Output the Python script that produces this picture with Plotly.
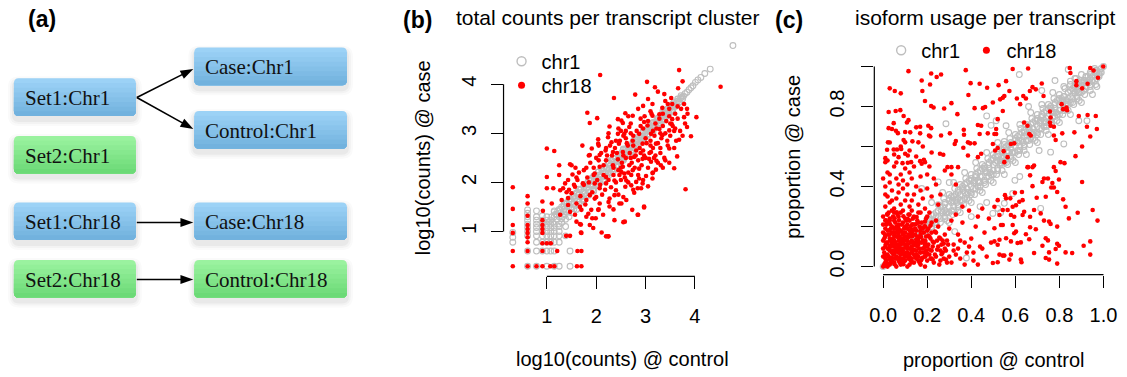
import math
import plotly.graph_objects as go

W, H = 1127, 377

# ---------------- data ----------------
# panel (b): (log10 counts @ control, log10 counts @ case)
b_chr1 = [
    (0.31, 0.98), (0.31, 0.88), (0.31, 0.78),
    (0.61, 1.44), (0.61, 1.37), (0.61, 1.30), (0.61, 1.23), (0.61, 1.15), (0.61, 1.08), (0.61, 1.00), (0.61, 0.91), (0.61, 0.60), (0.61, 0.29),
    (0.79, 1.42), (0.79, 1.30), (0.79, 1.23), (0.79, 1.15), (0.79, 1.08), (0.79, 1.00), (0.79, 0.91), (0.79, 0.78), (0.79, 0.60), (0.79, 0.29),
    (0.91, 1.32), (0.91, 1.23), (0.91, 1.15), (0.91, 1.08), (0.91, 1.00), (0.91, 0.91), (0.91, 0.78), (0.91, 0.60),
    (1.00, 1.30), (1.00, 1.23), (1.00, 1.15), (1.00, 1.08), (1.00, 1.00), (1.00, 0.91), (1.00, 0.78), (1.00, 0.60), (1.00, 0.29),
    (1.08, 1.23), (1.08, 1.15), (1.08, 1.08), (1.08, 1.00), (1.08, 0.91), (1.08, 0.78), (1.08, 0.60),
    (1.15, 1.40), (1.15, 1.30), (1.15, 1.15), (1.15, 1.08), (1.15, 1.00), (1.15, 0.91), (1.15, 0.78), (1.15, 0.60), (1.15, 0.29),
    (1.25, 1.45), (1.25, 1.30), (1.25, 1.15), (1.25, 1.00), (1.25, 0.91), (1.25, 0.78), (1.25, 0.29),
    (1.38, 1.10), (1.38, 0.91), (1.47, 0.60), (1.47, 0.29),
    (1.05, 1.20), (1.10, 1.30), (1.12, 1.18), (1.18, 1.35), (1.20, 1.25), (1.22, 1.42), (1.28, 1.38), (1.30, 1.50),
    (1.32, 1.30), (1.35, 1.45), (1.38, 1.58), (1.40, 1.40), (1.42, 1.52), (1.45, 1.62), (1.48, 1.48), (1.50, 1.60),
    (1.52, 1.70), (1.55, 1.55), (1.58, 1.68), (1.60, 1.78), (1.62, 1.62), (1.65, 1.74), (1.68, 1.85), (1.70, 1.70),
    (1.72, 1.80), (1.75, 1.90), (1.78, 1.78), (1.80, 1.88), (1.83, 1.96), (1.85, 1.84), (1.88, 1.95), (1.90, 2.03),
    (1.93, 1.92), (1.95, 2.02), (1.98, 2.10), (2.00, 1.98), (2.03, 2.08), (2.06, 2.15), (2.08, 2.05), (2.10, 2.14),
    (2.13, 2.22), (2.16, 2.12), (2.18, 2.20), (2.21, 2.28), (2.24, 2.20), (2.26, 2.28), (2.29, 2.34), (2.32, 2.27),
    (2.34, 2.35), (2.37, 2.42), (2.40, 2.34), (2.42, 2.42), (2.45, 2.48), (2.48, 2.42), (2.50, 2.50), (2.53, 2.55),
    (2.56, 2.50), (2.58, 2.58), (2.61, 2.63), (2.64, 2.58), (2.66, 2.66), (2.69, 2.70), (2.72, 2.66), (2.74, 2.74),
    (2.77, 2.78), (2.80, 2.74), (2.82, 2.82), (2.85, 2.86), (2.88, 2.82), (2.90, 2.90), (2.93, 2.94), (2.96, 2.90),
    (2.98, 2.98), (3.01, 3.02), (3.04, 2.98), (3.06, 3.06), (3.09, 3.10), (3.12, 3.06), (3.14, 3.14), (3.17, 3.18),
    (3.20, 3.14), (3.22, 3.22), (3.25, 3.26), (3.28, 3.22), (3.30, 3.30), (3.33, 3.34), (3.36, 3.30), (3.38, 3.38),
    (3.41, 3.42), (3.44, 3.38), (3.46, 3.46), (3.49, 3.50), (3.52, 3.46), (3.54, 3.54), (3.57, 3.58), (3.60, 3.55),
    (3.62, 3.62), (3.65, 3.66), (3.68, 3.64), (3.71, 3.72), (3.74, 3.74), (3.77, 3.76), (3.80, 3.81), (3.84, 3.84),
    (3.88, 3.89), (3.92, 3.93), (3.96, 3.97), (4.01, 4.04), (4.06, 4.09), (4.12, 4.14), (4.20, 4.22), (4.31, 4.31),
    (4.77, 4.79),
    (1.60, 1.45), (1.75, 1.62), (1.95, 1.82), (2.15, 2.02), (2.30, 2.45), (2.55, 2.68), (2.70, 2.56), (2.95, 3.05),
    (3.15, 3.02), (3.35, 3.45), (3.55, 3.44), (1.30, 1.18), (1.45, 1.30), (1.15, 1.42), (1.38, 1.25), (1.50, 1.38),
    (1.25, 1.10),
    (1.20, 1.34), (1.27, 1.44), (1.34, 1.52), (1.41, 1.58), (1.48, 1.66), (1.55, 1.72), (1.62, 1.80), (1.69, 1.86),
    (1.76, 1.94), (1.83, 2.00), (1.90, 2.08), (1.97, 2.14), (2.04, 2.21), (2.11, 2.27), (2.18, 2.33), (2.25, 2.38),
    (2.32, 2.44), (2.39, 2.50), (2.46, 2.56), (2.53, 2.62), (2.60, 2.68), (2.67, 2.74), (2.74, 2.80), (2.81, 2.87),
    (2.88, 2.93), (2.95, 3.00), (3.02, 3.07), (3.09, 3.14), (3.16, 3.21), (3.23, 3.28), (3.30, 3.35), (3.37, 3.42),
    (3.44, 3.49), (3.51, 3.56), (3.58, 3.63), (3.65, 3.70), (3.72, 3.77),
    (1.30, 1.26), (1.37, 1.34), (1.44, 1.40), (1.51, 1.47), (1.58, 1.53), (1.65, 1.60), (1.72, 1.66), (1.79, 1.73),
    (1.86, 1.80), (1.93, 1.86), (2.00, 1.93), (2.07, 2.00), (2.14, 2.06), (2.21, 2.13), (2.28, 2.20), (2.35, 2.27),
    (2.42, 2.34), (2.49, 2.41), (2.56, 2.48), (2.63, 2.55), (2.70, 2.62), (2.77, 2.70), (2.84, 2.77), (2.91, 2.84),
    (2.98, 2.91), (3.05, 2.99), (3.12, 3.06), (3.19, 3.13), (3.26, 3.20), (3.33, 3.27), (3.40, 3.34), (3.47, 3.41),
    (3.54, 3.49), (3.61, 3.56), (3.68, 3.63), (3.75, 3.70),
    (1.35, 1.56), (1.45, 1.66), (1.55, 1.76), (1.65, 1.86), (1.75, 1.96), (1.85, 2.05), (1.95, 2.13), (2.05, 2.22),
    (2.15, 2.30), (2.25, 2.40), (2.35, 2.48), (2.45, 2.57), (2.55, 2.66), (2.65, 2.75), (2.75, 2.84), (2.85, 2.93),
    (2.95, 3.03), (3.05, 3.12), (3.15, 3.22), (3.25, 3.31), (3.35, 3.40), (3.45, 3.50), (3.55, 3.60),
    (1.55, 1.46), (1.65, 1.55), (1.75, 1.65), (1.85, 1.74), (1.95, 1.84), (2.05, 1.94), (2.15, 2.04), (2.25, 2.14),
    (2.35, 2.24), (2.45, 2.35), (2.55, 2.45), (2.65, 2.55), (2.75, 2.65), (2.85, 2.76), (2.95, 2.86), (3.05, 2.96),
    (3.15, 3.06), (3.25, 3.16), (3.35, 3.26), (3.45, 3.37), (3.55, 3.47),
]
b_chr18 = [
    (2.08, 4.19), (2.36, 3.72), (1.82, 3.42), (2.02, 3.31), (1.87, 3.21), (2.27, 3.14), (2.44, 3.29), (2.54, 3.21),
    (1.00, 2.69), (1.15, 2.64), (1.72, 2.75), (2.04, 2.88), (2.04, 2.79), (1.91, 2.69), (2.19, 2.65), (2.31, 2.82),
    (2.46, 2.79), (2.34, 2.62), (2.07, 2.56), (1.87, 2.56), (2.44, 2.99), (2.50, 3.05), (2.24, 2.92),
    (3.68, 4.29), (3.03, 4.05), (3.19, 3.94), (4.52, 3.95), (3.75, 4.06), (3.66, 3.92), (2.79, 3.79), (3.38, 3.80),
    (3.52, 3.72), (3.54, 3.60), (3.48, 3.50), (3.14, 3.60), (2.95, 3.56), (3.34, 3.52), (3.78, 3.60), (3.84, 3.50),
    (4.03, 3.33), (3.78, 3.33), (2.59, 3.41), (2.74, 3.36), (3.14, 3.36), (3.28, 3.39), (3.54, 3.29), (3.53, 3.19),
    (2.97, 3.23), (2.51, 3.26), (3.84, 3.13), (3.92, 2.94), (3.48, 3.06), (3.34, 2.96), (3.64, 2.53), (3.48, 2.69),
    (3.21, 2.79), (3.11, 2.62), (2.97, 2.55), (2.87, 2.99), (2.74, 2.85), (2.57, 2.99), (2.64, 2.75), (2.81, 2.65),
    (2.54, 2.62), (2.67, 3.13), (3.04, 3.16), (3.11, 2.99), (3.28, 3.09), (3.44, 2.85), (3.68, 2.87), (2.94, 2.79),
    (3.40, 3.66), (2.90, 3.30), (3.20, 3.20), (3.00, 2.90), (2.70, 3.00), (3.30, 2.70), (2.60, 2.90), (3.60, 3.40),
    (3.58, 3.05), (3.10, 3.45),
    (3.48, 2.40), (3.58, 2.29), (3.31, 2.35), (3.21, 2.26), (3.14, 2.19), (3.81, 1.86), (3.14, 2.08), (3.01, 2.13),
    (3.05, 1.92), (2.94, 1.98), (2.91, 1.88), (2.84, 1.88), (2.77, 1.79), (2.81, 2.01), (2.71, 1.94), (2.61, 1.64),
    (2.97, 1.51), (2.73, 1.44), (2.85, 1.34), (2.55, 1.19), (2.51, 1.57), (2.59, 1.91), (2.61, 2.04), (2.71, 2.15),
    (2.87, 2.28), (2.87, 2.08), (2.74, 2.25), (3.07, 2.48), (3.17, 2.50), (3.22, 2.44), (3.11, 2.42), (2.94, 2.48),
    (2.77, 2.52), (2.67, 2.35), (2.54, 2.32), (2.47, 2.15), (2.57, 2.18),
    (0.31, 1.90), (0.31, 1.46), (0.31, 1.13), (0.31, 0.97), (0.31, 0.60), (0.31, 0.29),
    (0.61, 1.72), (0.61, 1.57), (0.61, 1.32), (0.61, 1.13), (0.61, 1.05), (0.61, 0.97), (0.61, 0.88), (0.61, 0.78),
    (0.61, 0.60), (0.61, 0.29), (0.79, 0.29), (0.91, 0.29), (1.07, 0.29), (1.15, 0.29), (1.61, 0.29), (1.70, 0.29),
    (0.91, 1.23), (0.91, 1.13), (0.91, 1.05), (0.91, 0.97), (0.91, 0.76), (0.91, 0.60), (1.00, 0.76), (1.08, 0.76),
    (1.21, 0.60), (1.62, 0.60), (1.70, 0.60), (1.39, 0.91), (1.47, 0.91), (1.69, 0.98), (1.87, 1.13), (1.92, 1.27),
    (1.99, 1.27), (2.20, 0.90), (2.25, 0.90), (2.37, 1.23), (2.58, 1.20), (1.00, 2.11), (1.25, 2.35), (1.50, 2.35),
    (1.58, 2.30), (1.13, 1.88), (1.27, 1.84), (1.33, 1.88), (1.10, 1.57), (1.30, 1.64), (1.43, 1.54), (1.47, 1.40),
    (1.27, 1.34), (1.43, 1.68), (1.60, 1.57), (1.67, 1.50), (1.80, 1.64), (1.87, 1.74), (1.73, 1.98), (1.82, 2.10),
    (1.97, 2.18), (2.07, 2.32), (2.20, 2.45), (2.34, 2.35), (2.44, 2.47), (2.51, 2.21), (2.37, 2.04), (2.20, 1.98),
    (2.07, 1.88), (1.97, 1.67), (2.07, 1.57), (2.27, 1.67), (2.37, 1.74), (2.47, 1.57), (2.27, 1.51), (2.04, 1.44),
    (1.84, 1.36), (1.70, 1.44), (2.14, 1.34), (1.67, 1.15), (1.90, 1.44), (1.43, 2.05), (1.57, 1.91), (1.50, 1.78),
    (1.37, 1.98), (1.97, 1.98), (2.20, 2.11), (2.40, 1.84),
    (2.97, 1.49), (2.84, 1.34), (2.24, 0.90), (2.11, 0.98), (1.94, 1.07), (1.70, 0.97), (1.69, 1.14), (1.57, 1.34),
    (1.52, 2.16), (0.92, 1.42), (0.91, 1.61), (1.00, 1.88), (1.25, 2.15), (1.47, 2.37),
    (1.55, 1.95), (1.62, 2.05), (1.68, 1.72), (1.75, 2.25), (1.78, 1.55), (1.85, 2.00), (1.88, 2.40), (1.92, 1.80),
    (1.95, 2.30), (2.00, 1.70), (2.02, 2.05), (2.05, 2.45), (2.08, 1.95), (2.10, 2.60), (2.12, 1.75), (2.15, 2.35),
    (2.18, 1.85), (2.22, 2.55), (2.25, 2.05), (2.28, 2.75), (2.30, 1.90), (2.32, 2.55), (2.35, 2.15), (2.38, 2.70),
    (2.40, 2.00), (2.42, 2.60), (2.45, 2.25), (2.48, 2.85), (2.50, 2.05), (2.52, 2.40), (2.55, 2.95), (2.58, 2.10),
    (2.60, 2.50), (2.62, 2.80), (2.65, 2.20), (2.68, 2.60), (2.70, 3.20), (2.72, 2.40), (2.75, 2.95), (2.78, 2.30),
    (2.80, 2.55), (2.82, 3.05), (2.85, 2.45), (2.88, 2.70), (2.90, 3.15), (2.92, 2.35), (2.95, 2.65), (2.98, 3.35),
    (3.00, 2.50), (3.02, 2.80), (3.05, 3.25), (3.08, 2.60), (3.10, 2.85), (3.12, 3.40), (3.15, 2.70), (3.18, 2.95),
    (3.20, 2.55), (3.22, 3.10), (3.25, 2.80), (3.28, 3.30), (3.30, 2.60), (3.32, 2.90), (3.35, 3.15), (3.38, 2.50),
    (3.40, 3.00), (3.42, 3.25), (3.45, 2.75), (3.48, 3.35), (3.50, 2.95), (3.55, 3.15), (3.58, 2.70), (3.60, 3.10),
    (3.65, 3.30), (3.70, 3.05), (3.72, 3.50), (3.75, 2.95), (3.80, 3.20), (3.85, 3.40), (3.62, 2.85), (3.40, 2.45),
    (3.25, 2.40), (3.05, 2.30), (2.85, 2.15), (2.65, 2.00), (2.45, 1.75), (2.25, 1.60), (2.05, 1.45), (1.80, 1.30),
    (1.60, 1.20), (2.35, 1.45), (2.55, 1.70), (2.75, 1.85), (2.95, 2.05), (3.15, 2.20), (3.35, 2.30), (1.45, 1.85),
    (1.65, 2.20), (1.85, 2.55), (2.05, 2.75), (2.25, 3.00), (2.45, 3.10), (2.65, 3.35), (2.85, 3.50), (3.05, 3.70),
    (3.25, 3.85), (2.60, 3.05), (2.40, 2.85), (2.20, 2.70), (2.00, 2.50), (1.80, 2.30), (1.60, 2.10), (1.40, 1.80),
    (3.45, 3.60), (3.65, 3.55), (2.95, 3.10), (2.75, 2.75), (2.55, 2.55), (2.35, 2.30), (2.15, 2.15), (1.95, 2.15),
    (1.75, 1.95), (3.15, 3.05), (3.35, 3.40), (2.50, 2.30), (2.70, 2.50), (2.90, 2.60), (3.10, 2.75), (3.30, 3.00),
    (3.50, 3.20),
]

# panel (c): (proportion @ control, proportion @ case)
c_chr1 = [
    (0.00, 0.00), (0.01, 0.01), (0.02, 0.03), (0.04, 0.02), (0.05, 0.06), (0.07, 0.05), (0.08, 0.09), (0.10, 0.08),
    (0.11, 0.12), (0.13, 0.11), (0.14, 0.14), (0.16, 0.15), (0.17, 0.17), (0.18, 0.20), (0.19, 0.17),
    (0.10, 0.12), (0.12, 0.10), (0.13, 0.15), (0.15, 0.13), (0.16, 0.18), (0.18, 0.16), (0.19, 0.21), (0.20, 0.18),
    (0.21, 0.24), (0.22, 0.20), (0.23, 0.26), (0.24, 0.22), (0.25, 0.28), (0.26, 0.24), (0.27, 0.30), (0.28, 0.25),
    (0.28, 0.32), (0.29, 0.27), (0.30, 0.33), (0.31, 0.28), (0.31, 0.35), (0.32, 0.30), (0.33, 0.36), (0.34, 0.31),
    (0.34, 0.38), (0.35, 0.33), (0.36, 0.40), (0.37, 0.34), (0.37, 0.41), (0.38, 0.36), (0.39, 0.43), (0.40, 0.37),
    (0.40, 0.44), (0.41, 0.39), (0.42, 0.46), (0.43, 0.40), (0.43, 0.47), (0.44, 0.42), (0.45, 0.49), (0.46, 0.43),
    (0.46, 0.50), (0.47, 0.45), (0.48, 0.52), (0.49, 0.46), (0.49, 0.53), (0.50, 0.48), (0.51, 0.55), (0.52, 0.49),
    (0.52, 0.56), (0.53, 0.51), (0.54, 0.58), (0.55, 0.52), (0.55, 0.59), (0.56, 0.54), (0.57, 0.61), (0.58, 0.55),
    (0.58, 0.62), (0.59, 0.57), (0.60, 0.64), (0.61, 0.58), (0.61, 0.65), (0.62, 0.60), (0.63, 0.67), (0.64, 0.61),
    (0.64, 0.68), (0.65, 0.63), (0.66, 0.70), (0.67, 0.64), (0.67, 0.71), (0.68, 0.66), (0.69, 0.73), (0.70, 0.67),
    (0.70, 0.74), (0.71, 0.69), (0.72, 0.76), (0.73, 0.70), (0.73, 0.77), (0.74, 0.72), (0.75, 0.79), (0.76, 0.73),
    (0.76, 0.80), (0.77, 0.75), (0.78, 0.82), (0.79, 0.76), (0.79, 0.83), (0.80, 0.78), (0.81, 0.84), (0.82, 0.79),
    (0.82, 0.85), (0.83, 0.81), (0.84, 0.87), (0.85, 0.82), (0.85, 0.88), (0.86, 0.84), (0.87, 0.90), (0.88, 0.85),
    (0.88, 0.91), (0.89, 0.87), (0.90, 0.92), (0.91, 0.88), (0.91, 0.93), (0.92, 0.90), (0.93, 0.95), (0.94, 0.91),
    (0.94, 0.96), (0.95, 0.93), (0.96, 0.97), (0.97, 0.94), (0.97, 0.98), (0.98, 0.96), (0.99, 0.99), (1.00, 1.00),
    (0.99, 0.97),
    (0.20, 0.20), (0.25, 0.25), (0.30, 0.30), (0.35, 0.36), (0.40, 0.40), (0.45, 0.45), (0.50, 0.51), (0.55, 0.55),
    (0.60, 0.60), (0.65, 0.66), (0.70, 0.70), (0.75, 0.75), (0.80, 0.81), (0.85, 0.85), (0.90, 0.90), (0.95, 0.95),
    (0.33, 0.33), (0.38, 0.39), (0.43, 0.43), (0.48, 0.49), (0.53, 0.53), (0.58, 0.59), (0.63, 0.63), (0.68, 0.69),
    (0.73, 0.73), (0.78, 0.79), (0.83, 0.83), (0.88, 0.88), (0.93, 0.93), (0.28, 0.28), (0.23, 0.23),
    (0.30, 0.22), (0.35, 0.27), (0.40, 0.32), (0.45, 0.37), (0.50, 0.42), (0.55, 0.46), (0.60, 0.52), (0.65, 0.56),
    (0.70, 0.62), (0.75, 0.66), (0.80, 0.72), (0.85, 0.76), (0.90, 0.82), (0.22, 0.32), (0.27, 0.37), (0.32, 0.42),
    (0.37, 0.47), (0.42, 0.52), (0.47, 0.57), (0.52, 0.62), (0.57, 0.67), (0.62, 0.71), (0.67, 0.77), (0.72, 0.81),
    (0.77, 0.87), (0.82, 0.90), (0.87, 0.94),
    (0.20, 0.24), (0.22, 0.26), (0.24, 0.27), (0.26, 0.30), (0.28, 0.31), (0.30, 0.34), (0.32, 0.35), (0.34, 0.37),
    (0.36, 0.39), (0.38, 0.42), (0.40, 0.43), (0.42, 0.45), (0.44, 0.48), (0.46, 0.49), (0.48, 0.51), (0.50, 0.54),
    (0.52, 0.55), (0.54, 0.57), (0.56, 0.60), (0.58, 0.61), (0.60, 0.63), (0.62, 0.66), (0.64, 0.67), (0.66, 0.69),
    (0.68, 0.72), (0.70, 0.73), (0.72, 0.75), (0.74, 0.78), (0.76, 0.79), (0.78, 0.81), (0.80, 0.84), (0.82, 0.85),
    (0.84, 0.87), (0.86, 0.89), (0.88, 0.91), (0.90, 0.93), (0.92, 0.95), (0.94, 0.97), (0.96, 0.99),
    (0.22, 0.19), (0.24, 0.21), (0.26, 0.22), (0.28, 0.24), (0.30, 0.27), (0.32, 0.28), (0.34, 0.30), (0.36, 0.33),
    (0.38, 0.34), (0.40, 0.36), (0.42, 0.39), (0.44, 0.40), (0.46, 0.42), (0.48, 0.45), (0.50, 0.46), (0.52, 0.48),
    (0.54, 0.51), (0.56, 0.52), (0.58, 0.54), (0.60, 0.57), (0.62, 0.58), (0.64, 0.60), (0.66, 0.63), (0.68, 0.64),
    (0.70, 0.66), (0.72, 0.69), (0.74, 0.70), (0.76, 0.72), (0.78, 0.75), (0.80, 0.76), (0.82, 0.78), (0.84, 0.81),
    (0.86, 0.82), (0.88, 0.84), (0.90, 0.87), (0.92, 0.89), (0.94, 0.90), (0.96, 0.93), (0.98, 0.95),
    (0.21, 0.21), (0.27, 0.27), (0.31, 0.32), (0.37, 0.37), (0.41, 0.42), (0.47, 0.47), (0.51, 0.52), (0.57, 0.57),
    (0.61, 0.62), (0.67, 0.67), (0.71, 0.72), (0.77, 0.77), (0.81, 0.82), (0.87, 0.87), (0.91, 0.92), (0.97, 0.97),
    (0.24, 0.25), (0.34, 0.34), (0.44, 0.45), (0.54, 0.54), (0.64, 0.65), (0.74, 0.74), (0.84, 0.84), (0.94, 0.94),
    (0.25, 0.31), (0.275, 0.34), (0.30, 0.36), (0.325, 0.39), (0.35, 0.41), (0.375, 0.44), (0.40, 0.46), (0.425, 0.49),
    (0.45, 0.51), (0.475, 0.54), (0.50, 0.56), (0.525, 0.59), (0.55, 0.61), (0.575, 0.64), (0.60, 0.66), (0.625, 0.69),
    (0.65, 0.71), (0.675, 0.74), (0.70, 0.76), (0.725, 0.79), (0.75, 0.81), (0.775, 0.84), (0.80, 0.86), (0.825, 0.89),
    (0.85, 0.91), (0.875, 0.94), (0.90, 0.96),
    (0.29, 0.23), (0.315, 0.26), (0.34, 0.28), (0.365, 0.31), (0.39, 0.33), (0.415, 0.36), (0.44, 0.38), (0.465, 0.41),
    (0.49, 0.43), (0.515, 0.46), (0.54, 0.48), (0.565, 0.51), (0.59, 0.53), (0.615, 0.56), (0.64, 0.58), (0.665, 0.61),
    (0.69, 0.63), (0.715, 0.66), (0.74, 0.68), (0.765, 0.71), (0.79, 0.73), (0.815, 0.76), (0.84, 0.78), (0.865, 0.81),
    (0.89, 0.83), (0.915, 0.86), (0.94, 0.88), (0.965, 0.91),
    (0.215, 0.23), (0.265, 0.28), (0.315, 0.33), (0.365, 0.38), (0.415, 0.43), (0.465, 0.48), (0.515, 0.53), (0.565, 0.58),
    (0.615, 0.63), (0.665, 0.68), (0.715, 0.73), (0.765, 0.78), (0.815, 0.83), (0.865, 0.88), (0.915, 0.93), (0.965, 0.98),
    (0.235, 0.22), (0.285, 0.27), (0.335, 0.32), (0.385, 0.37), (0.435, 0.42), (0.485, 0.47), (0.535, 0.52), (0.585, 0.57),
    (0.635, 0.62), (0.685, 0.67), (0.735, 0.72), (0.785, 0.77), (0.835, 0.82), (0.885, 0.87), (0.935, 0.92), (0.985, 0.97),
    (0.618, 0.960), (0.840, 0.985), (0.850, 0.927), (0.470, 0.753), (0.490, 0.706), (0.285, 0.714), (0.558, 0.704),
    (0.513, 0.729), (0.820, 0.613), (0.760, 0.572), (0.708, 0.580), (0.550, 0.625), (0.543, 0.547), (0.925, 0.729),
    (0.888, 0.729), (0.598, 0.431), (0.588, 0.365), (0.715, 0.291), (0.533, 0.269), (0.550, 0.316), (0.520, 0.291),
    (0.498, 0.266), (0.175, 0.390), (0.250, 0.423), (0.300, 0.420), (0.325, 0.175), (0.378, 0.043), (0.44, 0.30),
    (0.47, 0.32), (0.40, 0.25), (0.62, 0.45), (0.72, 0.88), (0.78, 0.93), (0.66, 0.80), (0.95, 0.86), (0.97, 0.90),
]
c_chr18 = [
    # dense cluster near the origin
    (0.00, 0.00), (0.01, 0.02), (0.02, 0.00), (0.03, 0.01), (0.05, 0.02), (0.06, 0.00), (0.08, 0.01), (0.10, 0.03),
    (0.12, 0.01), (0.14, 0.02), (0.17, 0.01), (0.20, 0.03), (0.23, 0.02), (0.04, 0.03), (0.07, 0.03), (0.09, 0.02),
    (0.01, 0.04), (0.11, 0.00), (0.13, 0.04), (0.16, 0.03), (0.19, 0.00), (0.26, 0.03),
    (0.00, 0.05), (0.02, 0.06), (0.03, 0.04), (0.05, 0.07), (0.06, 0.05), (0.08, 0.06), (0.09, 0.04), (0.11, 0.07),
    (0.12, 0.05), (0.14, 0.06), (0.15, 0.04), (0.17, 0.07), (0.19, 0.05), (0.21, 0.06), (0.24, 0.05), (0.27, 0.07),
    (0.30, 0.05), (0.04, 0.07), (0.07, 0.07), (0.10, 0.05), (0.13, 0.07), (0.16, 0.05), (0.22, 0.04),
    (0.00, 0.09), (0.01, 0.10), (0.03, 0.08), (0.04, 0.11), (0.06, 0.09), (0.07, 0.10), (0.09, 0.08), (0.10, 0.11),
    (0.12, 0.09), (0.13, 0.10), (0.15, 0.08), (0.16, 0.11), (0.18, 0.09), (0.20, 0.10), (0.22, 0.08), (0.25, 0.10),
    (0.28, 0.09), (0.02, 0.09), (0.05, 0.10), (0.08, 0.11), (0.11, 0.09), (0.14, 0.11), (0.19, 0.11), (0.32, 0.08),
    (0.00, 0.13), (0.02, 0.12), (0.03, 0.14), (0.05, 0.13), (0.06, 0.15), (0.08, 0.12), (0.09, 0.14), (0.11, 0.13),
    (0.12, 0.15), (0.14, 0.12), (0.16, 0.14), (0.18, 0.13), (0.21, 0.15), (0.23, 0.12), (0.26, 0.14), (0.01, 0.15),
    (0.04, 0.12), (0.07, 0.13), (0.10, 0.15), (0.13, 0.13), (0.19, 0.12), (0.29, 0.13),
    (0.00, 0.17), (0.02, 0.18), (0.03, 0.16), (0.05, 0.19), (0.06, 0.17), (0.08, 0.18), (0.09, 0.16), (0.11, 0.19),
    (0.13, 0.17), (0.15, 0.18), (0.17, 0.16), (0.20, 0.18), (0.24, 0.17), (0.04, 0.17), (0.07, 0.19), (0.10, 0.17),
    (0.12, 0.18), (0.18, 0.19), (0.01, 0.19),
    (0.00, 0.21), (0.02, 0.22), (0.04, 0.20), (0.05, 0.23), (0.07, 0.21), (0.09, 0.22), (0.10, 0.20), (0.12, 0.23),
    (0.14, 0.21), (0.16, 0.22), (0.19, 0.20), (0.22, 0.22), (0.03, 0.23), (0.06, 0.20), (0.11, 0.21), (0.01, 0.23),
    (0.00, 0.25), (0.02, 0.26), (0.03, 0.24), (0.05, 0.27), (0.07, 0.25), (0.08, 0.27), (0.10, 0.24), (0.12, 0.26),
    (0.14, 0.25), (0.17, 0.27), (0.20, 0.25), (0.04, 0.28), (0.09, 0.28), (0.13, 0.28),
    (0.005, 0.01), (0.015, 0.03), (0.025, 0.05), (0.035, 0.02), (0.045, 0.08), (0.055, 0.04), (0.065, 0.11),
    (0.075, 0.02), (0.085, 0.09), (0.095, 0.06), (0.105, 0.13), (0.115, 0.04), (0.125, 0.12), (0.135, 0.08),
    (0.145, 0.16), (0.155, 0.10), (0.165, 0.02), (0.175, 0.12), (0.185, 0.07), (0.195, 0.15), (0.205, 0.11),
    (0.215, 0.04), (0.005, 0.07), (0.015, 0.12), (0.025, 0.16), (0.035, 0.19), (0.045, 0.14), (0.055, 0.22),
    (0.065, 0.18), (0.075, 0.15), (0.085, 0.21), (0.095, 0.19), (0.105, 0.23), (0.115, 0.16), (0.125, 0.20),
    (0.135, 0.24), (0.145, 0.19), (0.155, 0.23), (0.165, 0.20), (0.175, 0.22), (0.185, 0.17), (0.195, 0.24),
    (0.005, 0.14), (0.015, 0.21), (0.025, 0.27), (0.035, 0.10), (0.045, 0.25), (0.055, 0.12), (0.065, 0.26),
    (0.075, 0.08), (0.085, 0.13), (0.095, 0.03), (0.105, 0.07), (0.115, 0.26), (0.125, 0.03), (0.135, 0.18),
    (0.145, 0.05), (0.155, 0.15), (0.165, 0.09), (0.175, 0.04), (0.185, 0.13), (0.195, 0.08), (0.205, 0.19),
    (0.215, 0.14), (0.225, 0.10), (0.235, 0.06), (0.245, 0.13), (0.255, 0.01), (0.265, 0.11), (0.275, 0.04),
    (0.285, 0.08), (0.295, 0.11), (0.31, 0.02), (0.33, 0.06), (0.35, 0.13), (0.37, 0.01), (0.39, 0.10), (0.41, 0.07),
    (0.43, 0.01), (0.45, 0.09), (0.02, 0.015), (0.04, 0.045), (0.06, 0.075), (0.08, 0.035), (0.10, 0.095),
    (0.12, 0.065), (0.14, 0.085), (0.16, 0.125), (0.18, 0.045), (0.20, 0.065), (0.03, 0.105), (0.05, 0.155),
    (0.07, 0.165), (0.09, 0.115), (0.11, 0.145), (0.13, 0.185), (0.15, 0.135), (0.17, 0.195), (0.19, 0.225),
    (0.21, 0.085),
    (0.012, 0.005), (0.032, 0.035), (0.052, 0.012), (0.072, 0.045), (0.092, 0.012), (0.112, 0.052), (0.132, 0.022),
    (0.152, 0.062), (0.172, 0.032), (0.192, 0.052), (0.008, 0.055), (0.028, 0.085), (0.048, 0.062), (0.068, 0.092),
    (0.088, 0.068), (0.108, 0.102), (0.128, 0.088), (0.148, 0.108), (0.168, 0.072), (0.188, 0.098), (0.012, 0.112),
    (0.032, 0.132), (0.052, 0.108), (0.072, 0.142), (0.092, 0.128), (0.112, 0.112), (0.132, 0.152), (0.152, 0.122),
    (0.172, 0.148), (0.192, 0.128), (0.008, 0.162), (0.028, 0.182), (0.048, 0.172), (0.068, 0.202), (0.088, 0.172),
    (0.108, 0.192), (0.128, 0.168), (0.148, 0.212), (0.168, 0.178), (0.188, 0.202), (0.012, 0.232), (0.032, 0.212),
    (0.052, 0.242), (0.072, 0.232), (0.092, 0.252), (0.112, 0.238), (0.132, 0.212), (0.152, 0.248), (0.018, 0.262),
    (0.062, 0.272), (0.205, 0.155), (0.225, 0.125), (0.235, 0.175), (0.245, 0.085), (0.255, 0.145), (0.265, 0.062),
    (0.275, 0.115), (0.285, 0.035), (0.225, 0.035), (0.215, 0.205),
    # left side, medium density
    (0.01, 0.30), (0.03, 0.32), (0.05, 0.29), (0.02, 0.35), (0.06, 0.34), (0.08, 0.31), (0.04, 0.38), (0.10, 0.33),
    (0.07, 0.37), (0.12, 0.30), (0.01, 0.40), (0.09, 0.39), (0.03, 0.42), (0.06, 0.44), (0.11, 0.41), (0.14, 0.36),
    (0.02, 0.47), (0.08, 0.46), (0.13, 0.44), (0.05, 0.50), (0.10, 0.49), (0.16, 0.31), (0.15, 0.40), (0.00, 0.44),
    (0.18, 0.34), (0.12, 0.47), (0.04, 0.33), (0.17, 0.45), (0.19, 0.29), (0.20, 0.39),
    (0.02, 0.53), (0.05, 0.56), (0.08, 0.60), (0.03, 0.62), (0.12, 0.58), (0.15, 0.55), (0.18, 0.60), (0.22, 0.57),
    (0.06, 0.52), (0.14, 0.50), (0.20, 0.46), (0.24, 0.41), (0.22, 0.35), (0.25, 0.31), (0.17, 0.38), (0.07, 0.41),
    (0.03, 0.46), (0.11, 0.36), (0.09, 0.43), (0.16, 0.27), (0.01, 0.36), (0.13, 0.33),
    # right of the cluster
    (0.22, 0.17), (0.25, 0.20), (0.27, 0.13), (0.30, 0.19), (0.32, 0.11), (0.34, 0.16), (0.36, 0.22), (0.38, 0.07),
    (0.40, 0.14), (0.42, 0.20), (0.44, 0.10), (0.46, 0.17), (0.48, 0.24), (0.35, 0.04), (0.29, 0.02), (0.33, 0.26),
    (0.41, 0.03), (0.45, 0.29), (0.24, 0.23), (0.37, 0.12), (0.43, 0.25), (0.31, 0.23), (0.28, 0.16), (0.39, 0.28),
    (0.47, 0.05), (0.26, 0.08), (0.34, 0.09), (0.49, 0.12), (0.21, 0.27), (0.36, 0.30),
    (0.23, 0.44), (0.28, 0.48), (0.26, 0.36), (0.31, 0.46), (0.21, 0.50), (0.33, 0.41),
    # lower right quadrant
    (0.658, 0.497), (0.678, 0.497), (0.775, 0.497), (0.783, 0.478), (0.667, 0.456), (0.730, 0.440), (0.748, 0.440),
    (0.798, 0.435), (0.903, 0.423), (0.723, 0.423), (0.768, 0.418), (0.775, 0.395), (0.678, 0.402), (0.763, 0.395),
    (0.790, 0.373), (0.630, 0.373), (0.598, 0.369), (0.553, 0.357), (0.558, 0.341), (0.520, 0.332), (0.577, 0.341),
    (0.618, 0.324), (0.633, 0.332), (0.697, 0.344), (0.738, 0.349), (0.817, 0.336), (0.603, 0.307), (0.588, 0.299),
    (0.565, 0.283), (0.543, 0.283), (0.505, 0.299), (0.685, 0.283), (0.715, 0.266), (0.640, 0.274), (0.633, 0.258),
    (0.667, 0.249), (0.580, 0.258), (0.595, 0.249), (0.528, 0.258), (0.828, 0.299), (0.883, 0.269), (0.843, 0.241),
    (0.951, 0.283), (0.973, 0.230), (0.730, 0.230), (0.753, 0.225), (0.760, 0.213), (0.790, 0.200), (0.693, 0.187),
    (0.667, 0.197), (0.535, 0.208), (0.543, 0.208), (0.505, 0.192), (0.588, 0.208), (0.603, 0.175), (0.595, 0.167),
    (0.648, 0.162), (0.558, 0.142), (0.528, 0.134), (0.505, 0.126), (0.738, 0.142), (0.748, 0.131), (0.663, 0.137),
    (0.625, 0.121), (0.610, 0.118), (0.580, 0.126), (0.520, 0.109), (0.723, 0.104), (0.790, 0.114), (0.798, 0.104),
    (0.783, 0.088), (0.940, 0.126), (0.910, 0.104), (0.828, 0.071), (0.858, 0.068), (0.685, 0.068), (0.753, 0.071),
    (0.738, 0.043), (0.753, 0.035), (0.625, 0.035), (0.628, 0.022), (0.580, 0.060), (0.573, 0.035), (0.550, 0.055),
    (0.528, 0.060), (0.543, 0.055), (0.520, 0.022), (0.498, 0.018), (0.790, 0.015), (0.940, 0.060),
    # upper right quadrant
    (0.999, 1.000), (0.658, 0.990), (0.588, 0.988), (0.847, 0.993), (0.940, 0.993), (0.955, 0.980), (0.850, 0.968),
    (0.975, 0.944), (0.558, 0.927), (0.524, 0.907), (0.720, 0.915), (0.877, 0.927), (0.877, 0.907), (0.928, 0.914),
    (0.678, 0.897), (0.693, 0.886), (0.666, 0.878), (0.573, 0.878), (0.903, 0.891), (0.728, 0.853), (0.636, 0.853),
    (0.607, 0.840), (0.550, 0.853), (0.543, 0.844), (0.531, 0.836), (0.648, 0.840), (0.622, 0.812), (0.498, 0.820),
    (0.810, 0.812), (0.832, 0.795), (0.835, 0.782), (0.817, 0.787), (0.757, 0.775), (0.543, 0.778), (0.760, 0.745),
    (0.888, 0.753), (0.928, 0.758), (0.965, 0.753), (0.520, 0.737), (0.757, 0.720), (0.760, 0.704), (0.775, 0.699),
    (0.813, 0.666), (0.640, 0.720), (0.655, 0.704), (0.663, 0.663), (0.670, 0.655), (0.775, 0.655), (0.783, 0.633),
    (0.868, 0.671), (0.925, 0.699), (0.970, 0.688), (0.940, 0.650), (0.903, 0.600), (0.873, 0.552), (0.805, 0.522),
    (0.823, 0.517), (0.685, 0.505), (0.655, 0.497), (0.513, 0.688), (0.513, 0.663), (0.580, 0.613), (0.595, 0.616),
    (0.547, 0.577), (0.565, 0.547), (0.508, 0.580), (0.520, 0.593), (0.550, 0.522), (0.498, 0.613),
    # upper left quadrant
    (0.115, 0.977), (0.218, 0.965), (0.243, 0.948), (0.263, 0.960), (0.375, 0.982), (0.175, 0.930), (0.213, 0.910),
    (0.397, 0.917), (0.438, 0.914), (0.472, 0.894), (0.030, 0.891), (0.053, 0.878), (0.080, 0.866), (0.178, 0.878),
    (0.387, 0.858), (0.190, 0.828), (0.218, 0.803), (0.229, 0.795), (0.310, 0.817), (0.277, 0.790), (0.415, 0.792),
    (0.453, 0.792), (0.463, 0.798), (0.337, 0.762), (0.025, 0.773), (0.057, 0.778), (0.078, 0.782), (0.093, 0.753),
    (0.115, 0.732), (0.108, 0.720), (0.150, 0.696), (0.168, 0.699), (0.205, 0.704), (0.218, 0.692), (0.048, 0.717),
    (0.025, 0.692), (0.040, 0.688), (0.058, 0.679), (0.067, 0.667), (0.100, 0.673), (0.123, 0.671), (0.168, 0.666),
    (0.208, 0.655), (0.214, 0.650), (0.263, 0.655), (0.303, 0.666), (0.366, 0.684), (0.367, 0.659), (0.330, 0.628),
    (0.325, 0.613), (0.364, 0.594), (0.385, 0.621), (0.395, 0.616), (0.415, 0.616), (0.438, 0.663), (0.430, 0.708),
    (0.445, 0.704), (0.475, 0.666), (0.505, 0.663), (0.385, 0.555), (0.445, 0.564), (0.430, 0.547), (0.093, 0.633),
    (0.100, 0.621), (0.082, 0.588), (0.048, 0.585), (0.063, 0.585), (0.022, 0.621), (0.018, 0.584), (0.010, 0.542),
    (0.010, 0.522), (0.070, 0.547), (0.100, 0.564), (0.112, 0.555), (0.088, 0.517), (0.112, 0.519), (0.127, 0.522),
    (0.133, 0.626), (0.160, 0.621), (0.168, 0.527), (0.185, 0.534), (0.175, 0.514), (0.190, 0.522), (0.258, 0.564),
    (0.273, 0.559), (0.292, 0.497), (0.310, 0.497), (0.340, 0.497),
]

b_ticks = [1, 2, 3, 4]
c_ticks = [0.0, 0.2, 0.4, 0.6, 0.8, 1.0]
c_xlabels = ["0.0", "0.2", "0.4", "0.6", "0.8", "1.0"]
c_ylabels = ["0.0", "", "0.4", "", "0.8", ""]
series_names = ["chr1", "chr18"]

# panel (a) diagram
left_boxes = ["Set1:Chr1", "Set2:Chr1", "Set1:Chr18", "Set2:Chr18"]
right_boxes = ["Case:Chr1", "Control:Chr1", "Case:Chr18", "Control:Chr18"]
left_colors = ["blue", "green", "blue", "green"]
right_colors = ["blue", "blue", "blue", "green"]

# ---------------- layout helpers (pixel -> paper) ----------------
def X(px):
    return px / W

def Y(py):
    return 1 - py / H

SANS = "Liberation Sans, Arial, sans-serif"
SERIF = "Liberation Serif, Times New Roman, serif"
GREY = "#bebebe"
RED = "#ff0000"

grey_marker = dict(symbol="circle-open", size=5.8, color=GREY, line=dict(width=1.1, color=GREY))
red_marker = dict(symbol="circle", size=4.6, color=RED, line=dict(width=0))
grey_key = dict(symbol="circle-open", size=9, color=GREY, line=dict(width=1.4, color=GREY))
red_key = dict(symbol="circle", size=7, color=RED, line=dict(width=0))

fig = go.Figure()

for pts, mk, xa, ya in [(b_chr1, grey_marker, "x", "y"), (b_chr18, red_marker, "x", "y"),
                        (c_chr1, grey_marker, "x2", "y2"), (c_chr18, red_marker, "x2", "y2")]:
    fig.add_trace(go.Scatter(x=[p[0] for p in pts], y=[p[1] for p in pts], mode="markers",
                             marker=mk, xaxis=xa, yaxis=ya, showlegend=False, hoverinfo="skip"))

# legend key entries (one legend box per entry, placed like R's legend)
for name, mk, lg, xa, ya in [(series_names[0], grey_key, "legend", "x", "y"),
                             (series_names[1], red_key, "legend2", "x", "y"),
                             (series_names[0], grey_key, "legend3", "x2", "y2"),
                             (series_names[1], red_key, "legend4", "x2", "y2")]:
    fig.add_trace(go.Scatter(x=[None], y=[None], mode="markers", marker=mk, name=name,
                             xaxis=xa, yaxis=ya, legend=lg, showlegend=True, hoverinfo="skip"))

axis_common = dict(showgrid=False, zeroline=False, showline=False, ticks="outside", ticklen=12,
                   tickwidth=1.2, tickcolor="black", tickfont=dict(family=SANS, size=20, color="black"))

bx0, bx1, by0, by1 = 503, 743, 37, 278.5
b_xr = [1 + (bx0 - 546.7) / 49.8, 1 + (bx1 - 546.7) / 49.8]
b_yr = [1 - (by1 - 233.3) / 49.44, 1 + (233.3 - by0) / 49.44]
cx0, cx1, cy0, cy1 = 877.1, 1117.2, 59.0, 276.8

fig.update_layout(
    xaxis=dict(domain=[X(bx0), X(bx1)], range=b_xr, anchor="y",
               tickvals=b_ticks, ticktext=[str(t) for t in b_ticks], ticklabelstandoff=10, **axis_common),
    yaxis=dict(domain=[Y(by1), Y(by0)], range=b_yr, anchor="x",
               tickvals=b_ticks, ticktext=[str(t) for t in b_ticks], tickangle=-90, ticklabelstandoff=7,
               **axis_common),
    xaxis2=dict(domain=[X(cx0), X(cx1)], range=[-0.04, 1.04], anchor="y2",
                tickvals=c_ticks, ticktext=c_xlabels, ticklabelstandoff=10, **axis_common),
    yaxis2=dict(domain=[Y(cy1), Y(cy0)], range=[-0.04, 1.04], anchor="x2",
                tickvals=c_ticks, ticktext=c_ylabels, tickangle=-90, ticklabelstandoff=9, **axis_common),
)

shapes = []
shapes.append(dict(type="line", xref="x", yref="y domain", x0=b_ticks[0], x1=b_ticks[-1], y0=0, y1=0,
                   line=dict(color="black", width=1.2)))
shapes.append(dict(type="line", xref="x domain", yref="y", x0=0, x1=0, y0=b_ticks[0], y1=b_ticks[-1],
                   line=dict(color="black", width=1.2)))
shapes.append(dict(type="line", xref="x2", yref="y2 domain", x0=c_ticks[0], x1=c_ticks[-1], y0=0, y1=0,
                   line=dict(color="black", width=1.2)))
shapes.append(dict(type="line", xref="x2 domain", yref="y2", x0=0, x1=0, y0=c_ticks[0], y1=c_ticks[-1],
                   line=dict(color="black", width=1.2)))

def pt(px, py):
    return f"{X(px):.5f},{Y(py):.5f}"

def rrect_path(x0, y0, x1, y1, r):
    return (f"M{pt(x0 + r, y0)} L{pt(x1 - r, y0)} Q{pt(x1, y0)} {pt(x1, y0 + r)} "
            f"L{pt(x1, y1 - r)} Q{pt(x1, y1)} {pt(x1 - r, y1)} L{pt(x0 + r, y1)} "
            f"Q{pt(x0, y1)} {pt(x0, y1 - r)} L{pt(x0, y0 + r)} Q{pt(x0, y0)} {pt(x0 + r, y0)} Z")

def bottom_path(x0, ys, x1, y1, r):
    return (f"M{pt(x0, ys)} L{pt(x1, ys)} L{pt(x1, y1 - r)} Q{pt(x1, y1)} {pt(x1 - r, y1)} "
            f"L{pt(x0 + r, y1)} Q{pt(x0, y1)} {pt(x0, y1 - r)} Z")

grad = {
    "blue": [(0x9c, 0xd2, 0xf6), (0x72, 0xb2, 0xde)],
    "green": [(0x9a, 0xf2, 0x9f), (0x6c, 0xda, 0x77)],
}

def mix(c0, c1, t):
    return "rgb(%d,%d,%d)" % tuple(round(a + (b - a) * t) for a, b in zip(c0, c1))

annotations = []

def add_box(x0, y0, x1, y1, label, color):
    r = 5
    for e, a in [(6, 0.025), (4, 0.035), (2, 0.05)]:
        shapes.append(dict(type="path", xref="paper", yref="paper",
                           path=rrect_path(x0 - e, y0 - e + 4, x1 + e, y1 + e + 4, r + e),
                           fillcolor=f"rgba(60,60,60,{a})", line=dict(width=0), layer="below"))
    c0, c1 = grad[color]
    n = 8
    shapes.append(dict(type="path", xref="paper", yref="paper", path=rrect_path(x0, y0, x1, y1, r),
                       fillcolor=mix(c0, c1, 0), line=dict(width=0), layer="below"))
    h = y1 - y0
    for i in range(1, n):
        ys = y0 + i * h / n
        shapes.append(dict(type="path", xref="paper", yref="paper", path=bottom_path(x0, ys, x1, y1, r),
                           fillcolor=mix(c0, c1, i / (n - 1)), line=dict(width=0), layer="below"))
    annotations.append(dict(xref="paper", yref="paper", x=X(x0 + 9), y=Y((y0 + y1) / 2 + 1),
                            xanchor="left", yanchor="middle", showarrow=False, text=label,
                            font=dict(family=SERIF, size=21, color="#111111")))

left_rows = [(79, 117), (137, 175), (204, 242), (262, 300)]
right_rows = [(48, 86), (112, 150), (204, 242), (262, 300)]
for (ya, yb), lab, col in zip(left_rows, left_boxes, left_colors):
    add_box(9, ya, 132, yb, lab, col)
for (ya, yb), lab, col in zip(right_rows, right_boxes, right_colors):
    add_box(191, ya, 345, yb, lab, col)

def add_arrow(tx, ty, hx, hy):
    dx, dy = hx - tx, hy - ty
    L = math.hypot(dx, dy)
    ux, uy = dx / L, dy / L
    hl, hw = 13, 4.6
    bxp, byp = hx - ux * hl, hy - uy * hl
    shapes.append(dict(type="line", xref="paper", yref="paper", x0=X(tx), y0=Y(ty), x1=X(bxp + ux * 2),
                       y1=Y(byp + uy * 2), line=dict(color="black", width=1.6)))
    p1 = (bxp - uy * hw, byp + ux * hw)
    p2 = (bxp + uy * hw, byp - ux * hw)
    shapes.append(dict(type="path", xref="paper", yref="paper",
                       path=f"M{pt(hx, hy)} L{pt(*p1)} L{pt(*p2)} Z",
                       fillcolor="black", line=dict(width=0)))

add_arrow(133, 98.3, 190, 69.5)
add_arrow(133, 98.3, 190, 130)
add_arrow(133, 224.3, 190, 224.3)
add_arrow(133, 281.7, 190, 281.7)

def ann(x, y, text, size=20, bold=False, angle=0, xanchor="center"):
    annotations.append(dict(xref="paper", yref="paper", x=X(x), y=Y(y), text=f"<b>{text}</b>" if bold else text,
                            showarrow=False, xanchor=xanchor, yanchor="middle", textangle=angle,
                            font=dict(family=SANS, size=size, color="black")))

ann(37.5, 19, "(a)", size=23, bold=True)
ann(416.5, 20, "(b)", size=23, bold=True)
ann(791.5, 20, "(c)", size=23, bold=True)
ann(453.3, 18, "total counts per transcript cluster", size=21, xanchor="left")
ann(988.5, 18, "isoform usage per transcript", size=21)
ann(421.7, 158.5, "log10(counts) @ case", angle=-90)
ann(623.5, 361.7, "log10(counts) @ control")
ann(795, 158, "proportion @ case", angle=-90)
ann(997.5, 362.7, "proportion @ control")

def legend_box(xpx, ypx):
    return dict(x=X(xpx), y=Y(ypx), xanchor="left", yanchor="middle", orientation="v",
                bgcolor="rgba(0,0,0,0)", borderwidth=0, itemwidth=30,
                font=dict(family=SANS, size=20, color="black"))

fig.update_layout(
    width=W, height=H, autosize=False,
    margin=dict(l=0, r=0, t=0, b=0),
    paper_bgcolor="white", plot_bgcolor="white",
    shapes=shapes, annotations=annotations,
    font=dict(family=SANS, size=20, color="black"),
    legend=legend_box(501, 61.7),
    legend2=legend_box(501, 86),
    legend3=legend_box(884, 50.7),
    legend4=legend_box(970, 50.7),
    showlegend=True,
)

fig.write_html("out.html")
